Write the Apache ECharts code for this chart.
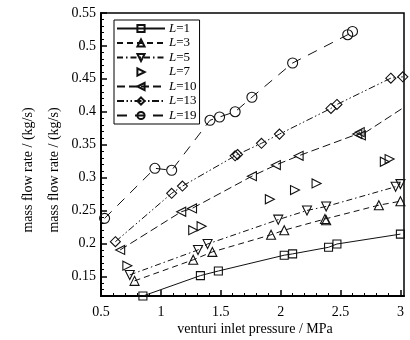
<!DOCTYPE html>
<html>
<head>
<meta charset="utf-8">
<script src="https://cdn.jsdelivr.net/npm/echarts@6/dist/echarts.min.js"></script>
<style>html,body{margin:0;padding:0;background:#fff}#c{width:410px;height:340px}</style>
</head>
<body>
<div id="c"></div>
<script>
// ---- data ----
const seriesNames = ['L=1', 'L=3', 'L=5', 'L=7', 'L=10', 'L=13', 'L=19'];
const xTickValues = [0.5, 1, 1.5, 2, 2.5, 3];
const yTickValues = [0.15, 0.2, 0.25, 0.3, 0.35, 0.4, 0.45, 0.5, 0.55];
const xTitle = 'venturi inlet pressure / MPa';
const yTitle = 'mass flow rate / (kg/s)';

const L1 = [[0.85, 0.12], [1.33, 0.151], [1.48, 0.158], [2.03, 0.182], [2.10, 0.184], [2.40, 0.194], [2.47, 0.199], [3.0, 0.214]];
const L3 = [[0.78, 0.143], [1.27, 0.175], [1.43, 0.187], [1.92, 0.213], [2.03, 0.22], [2.37, 0.237], [2.38, 0.235], [2.82, 0.258], [3.0, 0.264]];
const L5 = [[0.74, 0.152], [1.31, 0.19], [1.39, 0.199], [1.98, 0.236], [2.22, 0.25], [2.38, 0.256], [2.96, 0.286], [3.0, 0.29]];
const L7 = [[0.72, 0.166], [1.27, 0.22], [1.34, 0.226], [1.91, 0.267], [2.12, 0.281], [2.30, 0.291], [2.87, 0.324], [2.91, 0.328]];
const L10 = [[0.66, 0.19], [1.17, 0.248], [1.26, 0.253], [1.76, 0.302], [1.96, 0.319], [2.15, 0.333], [2.64, 0.366], [2.66, 0.369], [2.67, 0.364]];
const L10tail = [3.1, 0.415];
const L13 = [[0.62, 0.2025], [1.09, 0.276], [1.18, 0.287], [1.62, 0.333], [1.64, 0.335], [1.84, 0.352], [1.99, 0.366], [2.42, 0.405], [2.47, 0.411], [2.92, 0.451], [3.02, 0.453]];
const L19 = [[0.53, 0.238], [0.95, 0.314], [1.09, 0.311], [1.41, 0.387], [1.49, 0.392], [1.62, 0.40], [1.76, 0.422], [2.10, 0.474], [2.56, 0.517], [2.60, 0.522]];

// ---- styling ----
const FONT = 'Liberation Serif';
const yMinor = [];
for (let v = 13; v <= 55; v++) if (v % 5 !== 0) yMinor.push(v / 100);
const xMinor = [];
for (let v = 6; v <= 30; v++) if (v % 5 !== 0) xMinor.push(v / 10);

function mk(name, data, symbol, rot, size, dash, noLine) {
  return {
    name: name, type: 'line', data: data, xAxisIndex: 0, yAxisIndex: 0,
    symbol: symbol, symbolRotate: rot, symbolSize: size, clip: true,
    itemStyle: {color: 'rgba(255,255,255,0)', borderColor: '#111', borderWidth: 1.1},
    lineStyle: {color: '#111', width: 1, type: dash, opacity: noLine ? 0 : 1},
    emphasis: {disabled: true}, animation: false
  };
}
const l10data = L10.slice();
l10data.push({value: L10tail, symbol: 'none'});

const series = [
  mk(seriesNames[0], L1, 'rect', 0, 8, 'solid'),
  mk(seriesNames[1], L3, 'triangle', 0, 9, [6, 4]),
  mk(seriesNames[2], L5, 'triangle', 180, 9, [6, 3, 1.5, 3]),
  mk(seriesNames[3], L7, 'triangle', -90, 9, 'solid', true),
  mk(seriesNames[4], l10data, 'triangle', 90, 9, [8, 4]),
  mk(seriesNames[5], L13, 'diamond', 0, 10, [7, 2.5, 1.5, 2.5, 1.5, 2.5]),
  mk(seriesNames[6], L19, 'circle', 0, 10, [10, 8])
];

const chart = echarts.init(document.getElementById('c'), null, {renderer: 'canvas'});
chart.setOption({
  animation: false,
  backgroundColor: '#fff',
  grid: {left: 101, right: 6, top: 13, bottom: 44, show: true, borderColor: '#000', borderWidth: 1.5, backgroundColor: 'transparent'},
  legend: {
    data: seriesNames, orient: 'vertical', left: 114, top: 20,
    itemWidth: 48, itemHeight: 9, itemGap: 1.5, padding: [2, 3, 2, 2],
    borderColor: '#000', borderWidth: 1, backgroundColor: '#fff',
    selectedMode: false,
    formatter: function (n) { return '{i|L}{n|' + n.slice(1) + '}'; },
    textStyle: {
      color: '#000', fontFamily: FONT, fontSize: 13, padding: [0, 0, 0, -1],
      rich: {i: {fontStyle: 'italic', fontFamily: FONT, fontSize: 13, lineHeight: 12, color: '#000'}, n: {fontFamily: FONT, fontSize: 13, lineHeight: 12, color: '#000'}}
    }
  },
  xAxis: [
    {type: 'value', min: 0.5, max: 3.03,
      axisLine: {show: true, onZero: false, lineStyle: {color: '#000', width: 2}},
      axisTick: {show: true, inside: true, length: 6, customValues: xTickValues, lineStyle: {color: '#000', width: 1.5}},
      axisLabel: {show: true, customValues: xTickValues, margin: 9, color: '#000', fontFamily: FONT, fontSize: 14,
        formatter: function (v) { return String(v); }},
      splitLine: {show: false}},
    {type: 'value', min: 0.5, max: 3.03, position: 'bottom',
      axisLine: {show: false}, axisLabel: {show: false}, splitLine: {show: false},
      axisTick: {show: true, inside: true, length: 3, customValues: xMinor, lineStyle: {color: '#000', width: 1}}}
  ],
  yAxis: [
    {type: 'value', min: 0.12, max: 0.55,
      axisLine: {show: true, onZero: false, lineStyle: {color: '#000', width: 2}},
      axisTick: {show: true, inside: true, length: 6, customValues: yTickValues, lineStyle: {color: '#000', width: 1.5}},
      axisLabel: {show: true, customValues: yTickValues, margin: 5, color: '#000', fontFamily: FONT, fontSize: 14,
        formatter: function (v) { return String(Math.round(v * 100) / 100); }},
      splitLine: {show: false}},
    {type: 'value', min: 0.12, max: 0.55, position: 'left',
      axisLine: {show: false}, axisLabel: {show: false}, splitLine: {show: false},
      axisTick: {show: true, inside: true, length: 3, customValues: yMinor, lineStyle: {color: '#000', width: 1}}}
  ],
  graphic: [
    {type: 'text', x: 255, y: 329, style: {text: xTitle, font: '14px "Liberation Serif"', fill: '#000', align: 'center', verticalAlign: 'middle'}},
    {type: 'text', x: 28, y: 170, rotation: Math.PI / 2, style: {text: yTitle, font: '14px "Liberation Serif"', fill: '#000', align: 'center', verticalAlign: 'middle'}},
    {type: 'text', x: 54, y: 170, rotation: Math.PI / 2, style: {text: yTitle, font: '14px "Liberation Serif"', fill: '#000', align: 'center', verticalAlign: 'middle'}}
  ],
  series: series
});
</script>
</body>
</html>
